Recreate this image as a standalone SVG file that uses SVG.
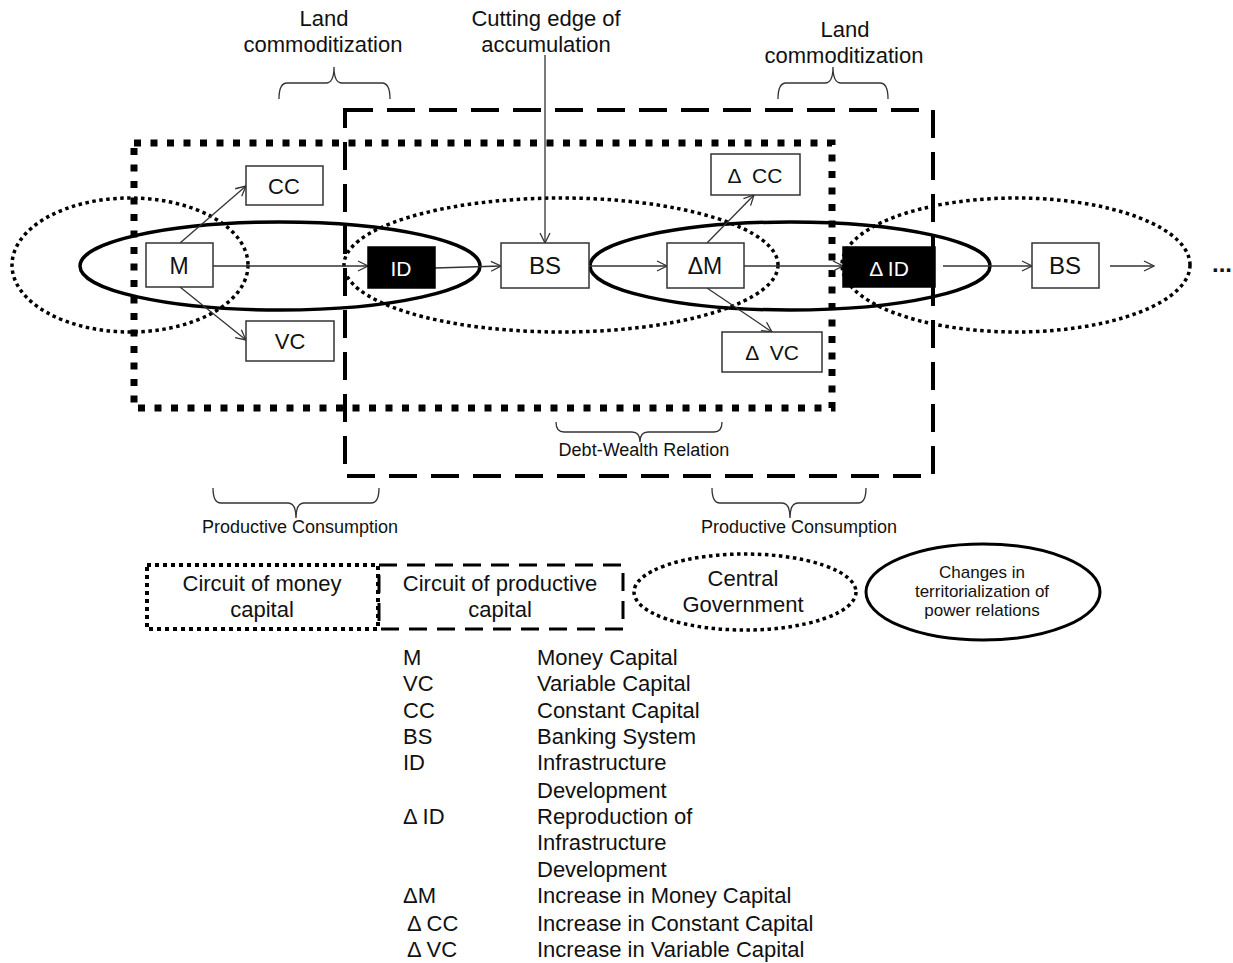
<svg xmlns="http://www.w3.org/2000/svg" width="1233" height="963" viewBox="0 0 1233 963">
<style>
text{font-family:"Liberation Sans",Arial,sans-serif;fill:#111}
.c{text-anchor:middle}
.box{fill:#fff;stroke:#333;stroke-width:1.5}
.blk{fill:#000;stroke:#000;stroke-width:1.5}
.wt{fill:#fff}
.dotrect{fill:none;stroke:#000;stroke-width:7;stroke-dasharray:7 9.5}
.dashrect{fill:none;stroke:#000;stroke-width:4;stroke-dasharray:28 14}
.dotell{fill:none;stroke:#000;stroke-width:3.5;stroke-dasharray:3.5 3.5}
.solell{fill:none;stroke:#000;stroke-width:3.5}
.arr{fill:none;stroke:#333;stroke-width:1.3;marker-end:url(#ah)}
.brace{fill:none;stroke:#333;stroke-width:1.3}
</style>
<defs>
<marker id="ah" viewBox="0 0 12 12" refX="11" refY="6" markerWidth="12" markerHeight="12" markerUnits="userSpaceOnUse" orient="auto">
<path d="M1,1 L11,6 L1,11" fill="none" stroke="#333" stroke-width="1.3"/>
</marker>
</defs>

<g id="regions">
<rect class="dashrect" x="345" y="110" width="588" height="366"/>
<rect class="dotrect" x="134" y="143" width="698" height="265"/>
<ellipse class="dotell" cx="130" cy="265" rx="118" ry="67"/>
<ellipse class="dotell" cx="561" cy="265" rx="217" ry="67"/>
<ellipse class="dotell" cx="1016" cy="265" rx="174" ry="67"/>
<ellipse class="solell" cx="280" cy="266" rx="200" ry="44"/>
<ellipse class="solell" cx="790" cy="266" rx="200" ry="44"/>
</g>

<g id="connectors">
<line class="arr" x1="213" y1="266" x2="368" y2="266"/>
<line class="arr" x1="180" y1="243" x2="246" y2="186"/>
<line class="arr" x1="180" y1="287" x2="246" y2="340"/>
<line class="arr" x1="435" y1="268" x2="501" y2="266"/>
<line class="arr" x1="589" y1="266" x2="667" y2="266"/>
<line class="arr" x1="707" y1="243" x2="754" y2="195"/>
<line class="arr" x1="707" y1="288" x2="772" y2="332"/>
<line class="arr" x1="744" y1="266" x2="843" y2="266"/>
<line class="arr" x1="943" y1="266" x2="1032" y2="266"/>
<line class="arr" x1="1110" y1="266" x2="1154" y2="266"/>
<line class="arr" x1="545" y1="55" x2="545" y2="243"/>
</g>

<g id="braces">
<path class="brace" d="M279,99 Q279,83 287,83 L326,83 Q334,83 334,67 Q334,83 342,83 L382,83 Q390,83 390,99"/>
<path class="brace" d="M778,99 Q778,83 786,83 L825,83 Q833,83 833,67 Q833,83 841,83 L880,83 Q888,83 888,99"/>
<path class="brace" d="M556,422 Q556,432 564,432 L632,432 Q640,432 640,442 Q640,432 648,432 L714,432 Q722,432 722,422"/>
<path class="brace" d="M213,488 Q213,503 221,503 L288,503 Q296,503 296,518 Q296,503 304,503 L371,503 Q379,503 379,488"/>
<path class="brace" d="M712,488 Q712,503 720,503 L782,503 Q790,503 790,518 Q790,503 798,503 L858,503 Q866,503 866,488"/>
</g>

<g id="node-CC"><rect class="box" x="246" y="166" width="77" height="39"/><text class="c" x="284" y="194" font-size="22">CC</text></g>
<g id="node-M"><rect class="box" x="146" y="243" width="67" height="44"/><text class="c" x="179" y="274" font-size="23">M</text></g>
<g id="node-VC"><rect class="box" x="246" y="321" width="88" height="40"/><text class="c" x="290" y="349" font-size="22">VC</text></g>
<g id="node-ID"><rect class="blk" x="368" y="247" width="67" height="41"/><text class="c wt" x="401" y="276" font-size="21">ID</text></g>
<g id="node-BS"><rect class="box" x="501" y="243" width="88" height="45"/><text class="c" x="545" y="274" font-size="24">BS</text></g>
<g id="node-dM"><rect class="box" x="667" y="243" width="77" height="45"/><text class="c" x="705" y="274" font-size="23">ΔM</text></g>
<g id="node-dCC"><rect class="box" x="711" y="154" width="89" height="41"/><text class="c" x="755" y="183" font-size="21" xml:space="preserve">Δ  CC</text></g>
<g id="node-dVC"><rect class="box" x="722" y="332" width="100" height="40"/><text class="c" x="772" y="360" font-size="21" xml:space="preserve">Δ  VC</text></g>
<g id="node-dID"><rect class="blk" x="843" y="247" width="92" height="40"/><text class="c wt" x="889" y="276" font-size="21">Δ ID</text></g>
<g id="node-BS2"><rect class="box" x="1032" y="243" width="67" height="45"/><text class="c" x="1065" y="274" font-size="24">BS</text></g>
<g id="node-ellipsis"><text x="1212" y="272" font-size="24" font-weight="bold">...</text></g>

<g id="labels">
<text class="c" x="324" y="26" font-size="22">Land</text>
<text class="c" x="323" y="52" font-size="22">commoditization</text>
<text class="c" x="546" y="26" font-size="22">Cutting edge of</text>
<text class="c" x="546" y="52" font-size="22">accumulation</text>
<text class="c" x="845" y="37" font-size="22">Land</text>
<text class="c" x="844" y="63" font-size="22">commoditization</text>
<text class="c" x="644" y="456" font-size="18">Debt-Wealth Relation</text>
<text class="c" x="300" y="533" font-size="18">Productive Consumption</text>
<text class="c" x="799" y="533" font-size="18">Productive Consumption</text>
</g>

<g id="legend-money">
<rect x="147" y="565" width="231" height="64" fill="none" stroke="#000" stroke-width="4" stroke-dasharray="4 4"/>
<text class="c" x="262" y="591" font-size="22">Circuit of money</text>
<text class="c" x="262" y="617" font-size="22">capital</text>
</g>
<g id="legend-productive">
<rect x="379" y="565" width="244" height="64" fill="none" stroke="#000" stroke-width="3" stroke-dasharray="18 10"/>
<text class="c" x="500" y="591" font-size="22">Circuit of productive</text>
<text class="c" x="500" y="617" font-size="22">capital</text>
</g>
<g id="legend-government">
<ellipse cx="745" cy="592" rx="111" ry="38" fill="none" stroke="#000" stroke-width="3.5" stroke-dasharray="3.5 3.5"/>
<text class="c" x="743" y="586" font-size="22">Central</text>
<text class="c" x="743" y="612" font-size="22">Government</text>
</g>
<g id="legend-territorial">
<ellipse cx="983" cy="592" rx="117" ry="48" fill="none" stroke="#000" stroke-width="3"/>
<text class="c" x="982" y="578" font-size="17">Changes in</text>
<text class="c" x="982" y="597" font-size="17">territorialization of</text>
<text class="c" x="982" y="616" font-size="17">power relations</text>
</g>

<g id="glossary" font-size="22">
<text x="403" y="665">M</text><text x="537" y="665">Money Capital</text>
<text x="403" y="691">VC</text><text x="537" y="691">Variable Capital</text>
<text x="403" y="718">CC</text><text x="537" y="718">Constant Capital</text>
<text x="403" y="744">BS</text><text x="537" y="744">Banking System</text>
<text x="403" y="770">ID</text><text x="537" y="770">Infrastructure</text>
<text x="537" y="798">Development</text>
<text x="403" y="824">Δ ID</text><text x="537" y="824">Reproduction of</text>
<text x="537" y="850">Infrastructure</text>
<text x="537" y="877">Development</text>
<text x="403" y="903">ΔM</text><text x="537" y="903">Increase in Money Capital</text>
<text x="407" y="931">Δ CC</text><text x="537" y="931">Increase in Constant Capital</text>
<text x="407" y="957">Δ VC</text><text x="537" y="957">Increase in Variable Capital</text>
</g>
</svg>
